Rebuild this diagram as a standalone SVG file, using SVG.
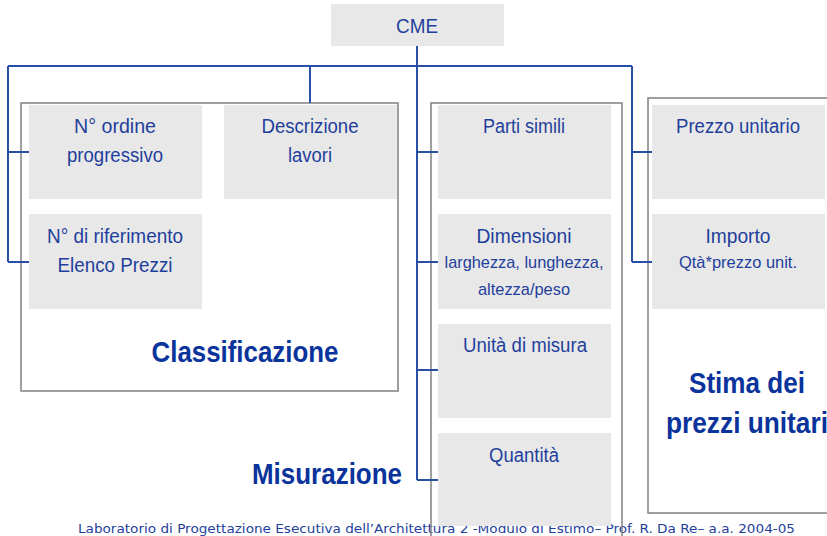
<svg xmlns="http://www.w3.org/2000/svg" width="827" height="536" viewBox="0 0 827 536">
<style>
.box{fill:#e8e8e8;stroke:none}
.cont{fill:none;stroke:#808080;stroke-width:1.5}
.lbl{font-family:"Liberation Sans",Arial,sans-serif;font-size:20px;fill:#1f3f9c;text-anchor:middle}
.sub{font-family:"Liberation Sans",Arial,sans-serif;font-size:17px;fill:#1f3f9c;text-anchor:middle}
.ttl{font-family:"Liberation Sans",Arial,sans-serif;font-size:30px;font-weight:bold;fill:#0a339c;text-anchor:middle}
.foot{font-family:"DejaVu Sans",Verdana,sans-serif;font-size:13px;fill:#1f3f9c}
.conn{fill:none;stroke:#2a4fa6;stroke-width:2}
</style>
<rect width="827" height="536" fill="#ffffff"/>
<text class="foot" x="78" y="533" textLength="717" lengthAdjust="spacingAndGlyphs">Laboratorio di Progettazione Esecutiva dell’Architettura 2 -Modulo di Estimo– Prof. R. Da Re– a.a. 2004-05</text>

<g id="classificazione">
<rect class="cont" x="21" y="103" width="377" height="288"/>
<text class="ttl" x="245" y="362" textLength="187" lengthAdjust="spacingAndGlyphs">Classificazione</text>
</g>
<g id="misurazione">
<rect class="cont" x="431" y="103" width="191" height="440"/>
</g>
<text class="ttl" x="327" y="484" textLength="150" lengthAdjust="spacingAndGlyphs">Misurazione</text>
<g id="stima">
<rect class="cont" x="648" y="98" width="190" height="415"/>
<text class="ttl" x="747" y="393" textLength="116" lengthAdjust="spacingAndGlyphs">Stima dei</text>
<text class="ttl" x="747" y="433" textLength="162" lengthAdjust="spacingAndGlyphs">prezzi unitari</text>
</g>

<g id="connectors">
<path class="conn" d="M417 46V480M8 66H632M8 66V262M632 66V262M310 66V103"/>
<path class="conn" d="M8 152H29M8 262H29M417 152H438M417 262H438M417 370H438M417 480H438M632 152H652M632 262H652"/>
</g>

<g id="cme">
<rect class="box" x="331" y="4" width="173" height="42"/>
<text class="lbl" x="417" y="33" textLength="42" lengthAdjust="spacingAndGlyphs">CME</text>
</g>
<g id="n-ordine">
<rect class="box" x="29" y="105" width="173" height="94"/>
<text class="lbl" x="115" y="133" textLength="82" lengthAdjust="spacingAndGlyphs">N° ordine</text>
<text class="lbl" x="115" y="162" textLength="96" lengthAdjust="spacingAndGlyphs">progressivo</text>
</g>
<g id="descrizione">
<rect class="box" x="224" y="105" width="173" height="94"/>
<text class="lbl" x="310" y="133" textLength="97" lengthAdjust="spacingAndGlyphs">Descrizione</text>
<text class="lbl" x="310" y="162" textLength="44" lengthAdjust="spacingAndGlyphs">lavori</text>
</g>
<g id="n-riferimento">
<rect class="box" x="29" y="214" width="173" height="95"/>
<text class="lbl" x="115" y="243" textLength="136" lengthAdjust="spacingAndGlyphs">N° di riferimento</text>
<text class="lbl" x="115" y="272" textLength="115" lengthAdjust="spacingAndGlyphs">Elenco Prezzi</text>
</g>
<g id="parti-simili">
<rect class="box" x="438" y="105" width="173" height="94"/>
<text class="lbl" x="524" y="133" textLength="82" lengthAdjust="spacingAndGlyphs">Parti simili</text>
</g>
<g id="dimensioni">
<rect class="box" x="438" y="214" width="173" height="95"/>
<text class="lbl" x="524" y="243" textLength="95" lengthAdjust="spacingAndGlyphs">Dimensioni</text>
<text class="sub" x="524" y="268" textLength="159" lengthAdjust="spacingAndGlyphs">larghezza, lunghezza,</text>
<text class="sub" x="524" y="295" textLength="92" lengthAdjust="spacingAndGlyphs">altezza/peso</text>
</g>
<g id="unita">
<rect class="box" x="438" y="324" width="173" height="94"/>
<text class="lbl" x="525" y="352" textLength="124" lengthAdjust="spacingAndGlyphs">Unità di misura</text>
</g>
<g id="quantita">
<rect class="box" x="438" y="433" width="173" height="93"/>
<text class="lbl" x="524" y="462" textLength="70" lengthAdjust="spacingAndGlyphs">Quantità</text>
</g>
<g id="prezzo-unitario">
<rect class="box" x="652" y="105" width="173" height="94"/>
<text class="lbl" x="738" y="133" textLength="124" lengthAdjust="spacingAndGlyphs">Prezzo unitario</text>
</g>
<g id="importo">
<rect class="box" x="652" y="214" width="173" height="95"/>
<text class="lbl" x="738" y="243" textLength="65" lengthAdjust="spacingAndGlyphs">Importo</text>
<text class="sub" x="738" y="268" font-size="16" textLength="118" lengthAdjust="spacingAndGlyphs">Qtà*prezzo unit.</text>
</g>
</svg>
